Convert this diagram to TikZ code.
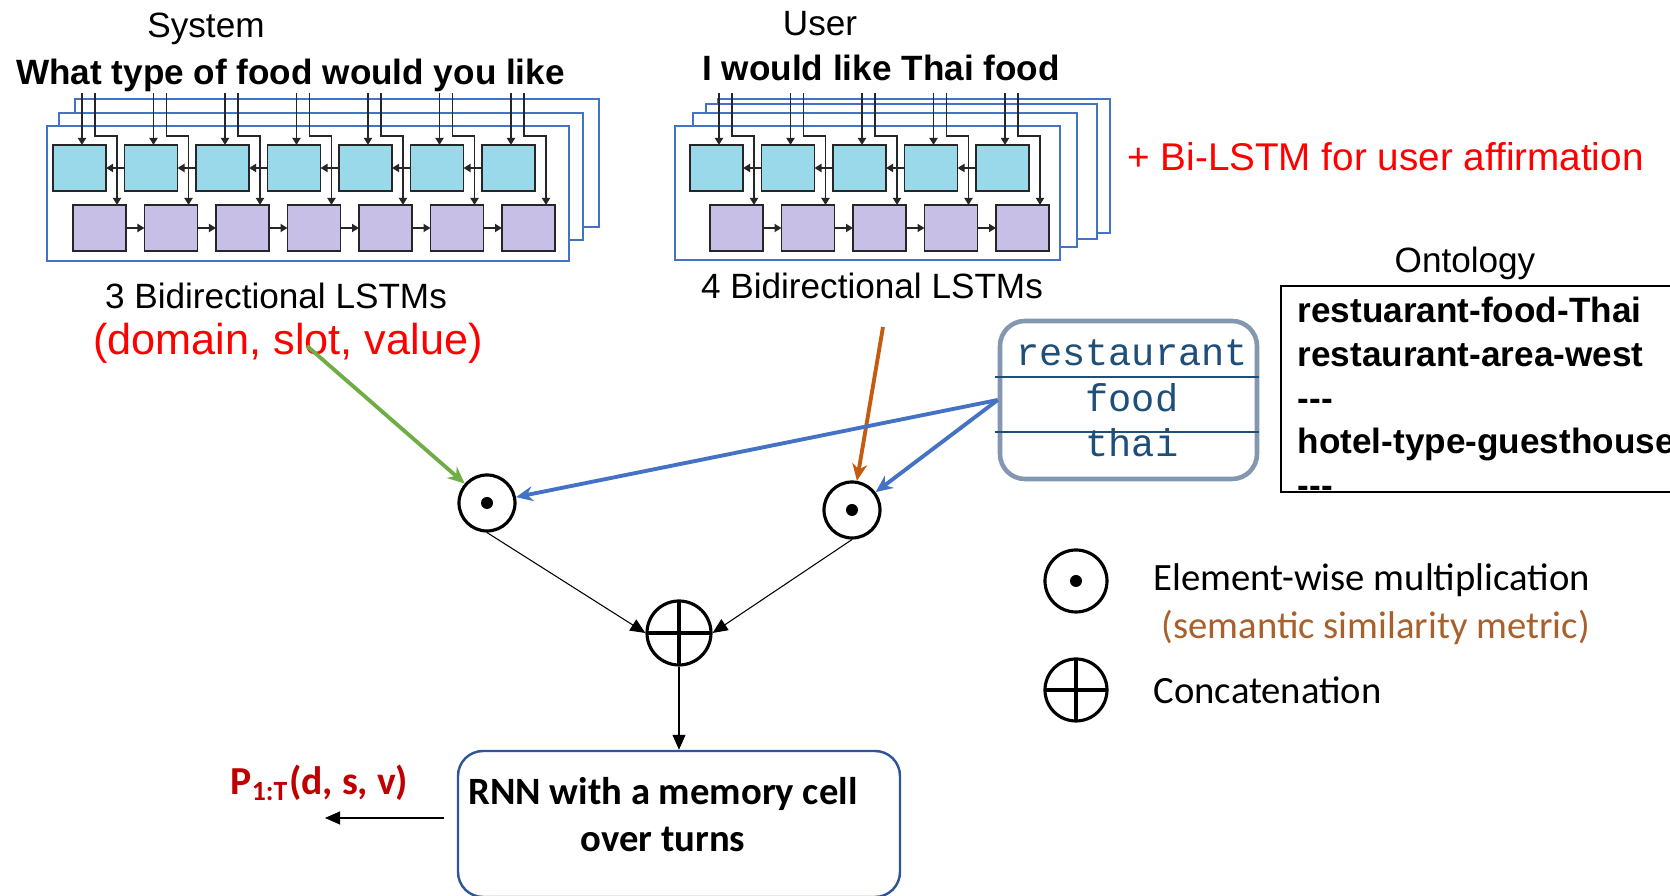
\documentclass[tikz,border=0pt]{standalone}
\usepackage{fontspec}
\setmainfont{Liberation Sans}
\newfontfamily\calibfont{Carlito}
\newfontfamily\courfont{Liberation Mono}
\usetikzlibrary{arrows.meta}
\definecolor{lstmblue}{HTML}{4472C4}
\definecolor{celltop}{HTML}{99D9EA}
\definecolor{cellbot}{HTML}{C8BFE7}
\definecolor{slotgrey}{HTML}{8497B0}
\definecolor{slottext}{HTML}{1F4E79}
\definecolor{rnnblue}{HTML}{2F5597}
\definecolor{arrgreen}{HTML}{70AD47}
\definecolor{arrorange}{HTML}{C55A11}
\definecolor{simbrown}{HTML}{A9602C}
\definecolor{pred}{HTML}{C00000}
\tikzset{
	layer/.style={draw=lstmblue, fill=white, line width=0.7pt},
	cellbox/.style={draw=black!85, line width=0.55pt},
	wire/.style={draw=black!85, line width=0.5pt, -{Triangle[length=0.7mm,width=0.8mm]}},
	mult/.style={circle, draw, line width=0.9pt, minimum size=0.56cm, inner sep=0pt,
		path picture={\fill (path picture bounding box.center) circle (0.06);}},
	conc/.style={circle, draw, line width=0.9pt, minimum size=0.64cm, inner sep=0pt,
		path picture={\draw[line width=0.9pt] (path picture bounding box.north) -- (path picture bounding box.south)
			(path picture bounding box.west) -- (path picture bounding box.east);}},
	flow/.style={line width=0.3pt, -{Triangle[length=1.5mm,width=1.3mm]}},
	feed/.style={line width=1.1pt, -{Stealth[length=1.7mm,width=1.5mm]}},
	lbl/.style={inner sep=0pt},
}
% one LSTM column: forward cell, backward cell and the two input wires
\def\lstmcol(#1){%
	\draw[cellbox, fill=celltop] (#1,-1.45) rectangle ({#1+0.53},-1.91);
	\draw[cellbox, fill=cellbot] ({#1+0.20},-2.05) rectangle ({#1+0.73},-2.51);
	\draw[wire] ({#1+0.29},-0.93) -- ({#1+0.29},-1.45);
	\draw[wire] ({#1+0.42},-0.93) -- ({#1+0.42},-1.36) -- ({#1+0.64},-1.36) -- ({#1+0.64},-2.05);
}
\def\lstmlink(#1){%
	\draw[wire] ({#1+0.715},-1.68) -- ({#1+0.53},-1.68);
	\draw[wire] ({#1+0.73},-2.28) -- ({#1+0.915},-2.28);
}

\begin{document}
\begin{tikzpicture}
		%%%%% START %%%%%
		\useasboundingbox (0,0) rectangle (16.7,-8.96);
		
		% system encoder
		\node[lbl, font=\fontsize{10}{12}\selectfont] (sysT) at (2.06,-0.29) {System};
		\node[lbl, font=\fontsize{10}{12}\selectfont\bfseries] (sysU) at (2.905,-0.75) {What type of food would you like};
		\draw[layer] (0.75,-0.99) rectangle (5.99,-2.27);
		\draw[layer] (0.59,-1.13) rectangle (5.83,-2.40);
		\draw[layer] (0.47,-1.26) rectangle (5.69,-2.61);
		\lstmcol(0.53) \lstmcol(1.245) \lstmcol(1.96) \lstmcol(2.675)
		\lstmcol(3.39) \lstmcol(4.105) \lstmcol(4.82)
		\lstmlink(0.53) \lstmlink(1.245) \lstmlink(1.96)
		\lstmlink(2.675) \lstmlink(3.39) \lstmlink(4.105)
		\node[lbl, font=\fontsize{10}{12}\selectfont] (sysL) at (2.76,-2.96) {3 Bidirectional LSTMs};
		\node[lbl, font=\fontsize{12.3}{14}\selectfont, text=red] (dsv) at (2.88,-3.43) {(domain, slot, value)};
		
		% user encoder
		\node[lbl, font=\fontsize{10}{12}\selectfont] (usrT) at (8.20,-0.24) {User};
		\node[lbl, font=\fontsize{10}{12}\selectfont\bfseries] (usrU) at (8.81,-0.68) {I would like Thai food};
		\draw[layer] (7.18,-0.99) rectangle (11.10,-2.33);
		\draw[layer] (7.06,-1.04) rectangle (10.97,-2.39);
		\draw[layer] (6.93,-1.13) rectangle (10.77,-2.47);
		\draw[layer] (6.75,-1.26) rectangle (10.60,-2.60);
		\lstmcol(6.90) \lstmcol(7.615) \lstmcol(8.33) \lstmcol(9.045) \lstmcol(9.76)
		\lstmlink(6.90) \lstmlink(7.615) \lstmlink(8.33) \lstmlink(9.045)
		\node[lbl, font=\fontsize{10}{12}\selectfont] (usrL) at (8.72,-2.86) {4 Bidirectional LSTMs};
		\node[lbl, font=\fontsize{11}{13}\selectfont, text=red] (aff) at (13.855,-1.57) {+ Bi-LSTM for user affirmation};
		
		% ontology
		\node[lbl, font=\fontsize{10}{12}\selectfont] (ont) at (14.65,-2.63) {Ontology};
		\draw[line width=0.6pt] (16.7,-2.86) -- (12.81,-2.86) -- (12.81,-4.92) -- (16.7,-4.92);
		\node[lbl, anchor=north west, align=left, font=\fontsize{10}{12.5}\selectfont\bfseries] (ontL) at (12.97,-2.96)
			{restuarant-food-Thai\\ restaurant-area-west\\ {-}{-}{-}\\ hotel-type-guesthouse\\ {-}{-}{-}};
		
		% candidate slot
		\node[draw=slotgrey, line width=1.3pt, rounded corners=0.25cm, minimum width=2.57cm, minimum height=1.58cm] (slot) at (11.285,-4.0) {};
		\draw[slottext, line width=0.6pt] ([xshift=-0.03cm,yshift=0.23cm]slot.west) -- ([yshift=0.23cm]slot.east);
		\draw[slottext, line width=0.6pt] ([xshift=-0.03cm,yshift=-0.32cm]slot.west) -- ([yshift=-0.32cm]slot.east);
		\node[lbl, font=\courfont\fontsize{11}{13}\selectfont, text=slottext] (s1) at (11.32,-3.53) {restaurant};
		\node[lbl, font=\courfont\fontsize{11}{13}\selectfont, text=slottext] (s2) at (11.32,-3.98) {food};
		\node[lbl, font=\courfont\fontsize{11}{13}\selectfont, text=slottext] (s3) at (11.32,-4.43) {thai};
		
		% similarity and memory
		\node[mult] (m1) at (4.87,-5.03) {};
		\node[mult] (m2) at (8.52,-5.10) {};
		\node[conc] (cc) at (6.79,-6.33) {};
		\node[draw=rnnblue, line width=0.7pt, rounded corners=0.25cm, minimum width=4.42cm, minimum height=1.46cm] (rnn) at (6.79,-8.24) {};
		\node[lbl, align=center, font=\calibfont\bfseries\fontsize{11}{13.4}\selectfont] (rnnT) at (6.63,-8.15) {RNN with a memory cell\\ over turns};
		\node[lbl, font=\calibfont\bfseries\fontsize{11.3}{14}\selectfont, text=pred] (pT) at (3.195,-7.83) {P\textsubscript{1:T}(d, s, v)};
		
		\coordinate (g0) at (3.07,-3.46);
		\coordinate (o0) at (8.83,-3.27);
		\coordinate (pend) at (3.25,-8.18);
		\draw[feed, arrgreen] (g0) -- (m1);
		\draw[feed, arrorange] (o0) -- (m2);
		\draw[feed, lstmblue] (slot.west) -- (m1);
		\draw[feed, lstmblue] (slot.west) -- (m2);
		\draw[flow] (m1.south) -- (cc.west);
		\draw[flow] (m2.south) -- (cc.east);
		\draw[flow] (cc.south) -- (rnn.north);
		\draw[flow] ([xshift=-0.13cm]rnn.west |- pend) -- (pend);
		
		% legend
		\node[mult, minimum size=0.62cm] (lm) at (10.76,-5.81) {};
		\node[conc, minimum size=0.62cm] (lc) at (10.76,-6.90) {};
		\node[lbl, anchor=west, font=\calibfont\fontsize{11}{13}\selectfont] (lt1) at (11.53,-5.80) {Element-wise multiplication};
		\node[lbl, anchor=west, font=\calibfont\fontsize{11}{13}\selectfont, text=simbrown] (lt2) at (11.61,-6.27) {(semantic similarity metric)};
		\node[lbl, anchor=west, font=\calibfont\fontsize{11}{13}\selectfont] (lt3) at (11.53,-6.90) {Concatenation};
		
		%%%%% END %%%%%
\end{tikzpicture}
\end{document}
